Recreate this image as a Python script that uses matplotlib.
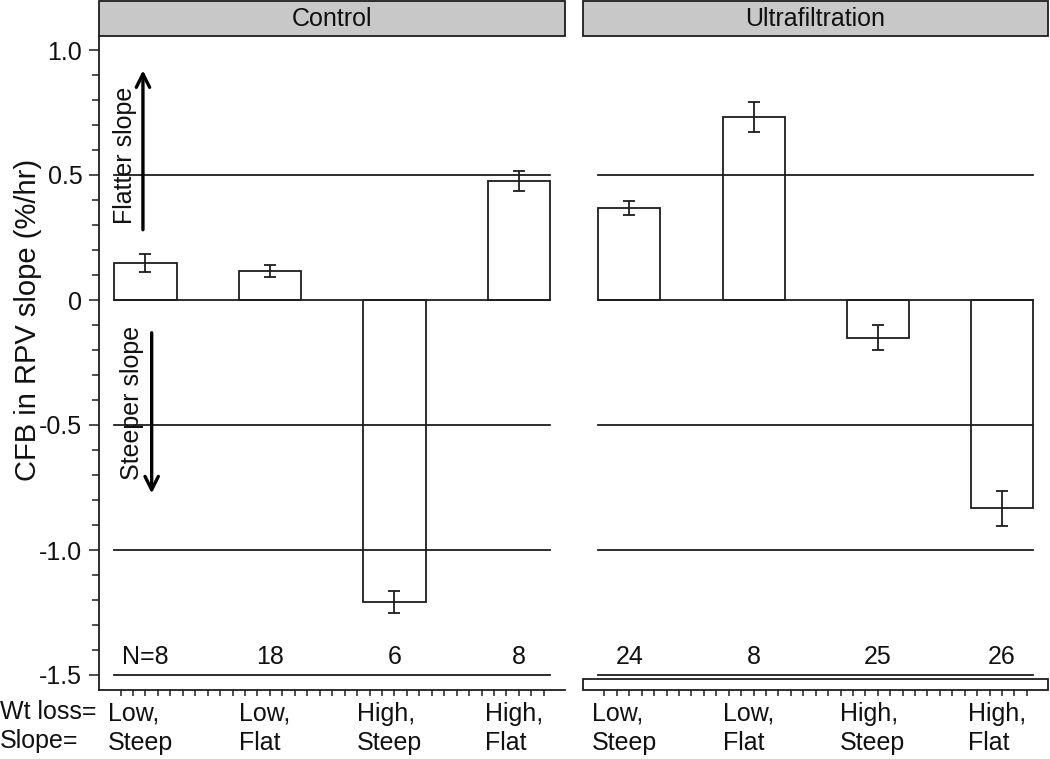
import matplotlib
matplotlib.use("Agg")
import matplotlib.pyplot as plt
from matplotlib.patches import Rectangle
from matplotlib.transforms import blended_transform_factory
import numpy as np

plt.rcParams['font.family'] = ['Liberation Sans', 'DejaVu Sans']

# ---- data ----
panels = ["Control", "Ultrafiltration"]
categories = ["Low,\nSteep", "Low,\nFlat", "High,\nSteep", "High,\nFlat"]
control_vals = [0.147, 0.116, -1.208, 0.476]
control_err = [0.036, 0.025, 0.045, 0.040]
uf_vals = [0.368, 0.732, -0.150, -0.833]
uf_err = [0.028, 0.060, 0.050, 0.070]
control_n = ["N=8", "18", "6", "8"]
uf_n = ["24", "8", "25", "26"]
ref_lines = [0.5, -0.5, -1.0, -1.5]
yticks = [1.0, 0.5, 0.0, -0.5, -1.0, -1.5]
ytick_labels = ["1.0", "0.5", "0", "-0.5", "-1.0", "-1.5"]
row_labels = "Wt loss=\nSlope="
ylabel = "CFB in RPV slope (%/hr)"

FS = 18
LC = '#1e1e1e'
TC = '#111111'
W, H = 1050, 759
fig = plt.figure(figsize=(10.5, 7.59), dpi=100)

ax_bottom = 1 - 690 / H
ax_h = 654 / H
axL = fig.add_axes([99 / W, ax_bottom, 466 / W, ax_h])
axR = fig.add_axes([583 / W, ax_bottom, 465 / W, ax_h])

x = np.arange(1, len(categories) + 1)
bw = 0.5

def draw_panel(ax, vals, errs, ns, title):
    ax.set_xlim(0.627, 4.37)
    ax.set_ylim(-1.56, 1.056)
    ax.bar(x, vals, width=bw, color='white', edgecolor=LC, linewidth=1.3, zorder=1)
    ax.errorbar(x, vals, yerr=errs, fmt='none', ecolor=LC, elinewidth=1.3,
                capsize=4.5, capthick=1.3, zorder=3)
    for yv in ref_lines + [0.0]:
        ax.plot([x[0] - bw / 2, x[-1] + bw / 2], [yv, yv], color=LC, lw=1.3, zorder=2)
    for xi, n in zip(x, ns):
        ax.text(xi, -1.43, n, ha='center', va='center', fontsize=FS, color=TC)
    trans = blended_transform_factory(ax.transData, ax.transAxes)
    for xi, lab in zip(x, categories):
        ax.text(xi - 0.04, -12 / 654, lab, transform=trans, ha='center', va='top',
                multialignment='left', fontsize=FS, linespacing=1.25, color=TC)
    # strip
    strip = Rectangle((0, 1.0), 1, 35 / 654, transform=ax.transAxes, facecolor='#c8c8c8',
                      edgecolor=LC, linewidth=1.3, clip_on=False, zorder=5)
    ax.add_patch(strip)
    ax.text(0.5, 1.0 + 17.5 / 654, title, transform=ax.transAxes, ha='center', va='center',
            fontsize=FS, color=TC, zorder=6)
    # x minor ticks
    ax.set_xticks(np.round(np.arange(0.8, 4.21, 0.1), 2))
    ax.set_xticklabels([])
    ax.tick_params(axis='x', direction='out', length=4, width=1.1, color=LC)
    for s in ['top', 'right']:
        ax.spines[s].set_visible(False)

draw_panel(axL, control_vals, control_err, control_n, panels[0])
draw_panel(axR, uf_vals, uf_err, uf_n, panels[1])

# left axis styling
axL.set_yticks(yticks)
axL.set_yticklabels(ytick_labels, fontsize=FS, color=TC)
axL.set_yticks(np.round(np.arange(-1.5, 1.05, 0.1), 2), minor=True)
axL.tick_params(axis='y', which='major', length=7, width=1.1, pad=5, color=LC)
axL.tick_params(axis='y', which='minor', length=5, width=1.1, color=LC)
axL.spines['left'].set_color(LC)
axL.spines['bottom'].set_color(LC)
axL.spines['left'].set_linewidth(1.3)
axL.spines['bottom'].set_linewidth(1.3)

# right axis styling
axR.spines['left'].set_visible(False)
axR.spines['bottom'].set_visible(False)
axR.set_yticks([])
axR.add_patch(Rectangle((0, 0), 1, 11 / 654, transform=axR.transAxes, facecolor='white',
                        edgecolor=LC, linewidth=1.3, clip_on=False, zorder=4))

# arrows
axL.annotate('', xy=(0.98, 0.93), xytext=(0.98, 0.27),
             arrowprops=dict(arrowstyle='->', lw=2.4, color='black', mutation_scale=24))
axL.text(0.835, 0.58, 'Flatter slope', rotation=90, ha='center', va='center', fontsize=FS,
         color=TC)
axL.annotate('', xy=(1.05, -0.785), xytext=(1.05, -0.12),
             arrowprops=dict(arrowstyle='->', lw=2.4, color='black', mutation_scale=24))
axL.text(0.89, -0.41, 'Steeper slope', rotation=90, ha='center', va='center', fontsize=FS,
         color=TC)

# row labels & y label
fig.text(0.0, 1 - 700 / H, row_labels, ha='left', va='top', fontsize=FS, linespacing=1.25,
         color=TC)
fig.text(0.027, 1 - 320 / H, ylabel, rotation=90, ha='center', va='center', fontsize=21,
         color=TC)

fig.savefig('out.png', dpi=100)
